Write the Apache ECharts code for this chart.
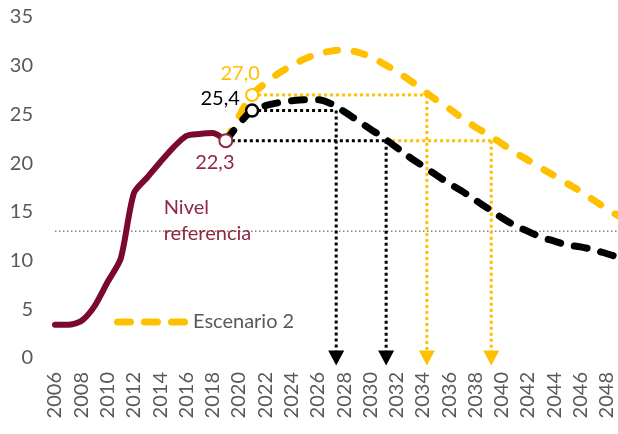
<!DOCTYPE html>
<html>
<head>
<meta charset="utf-8">
<script src="https://cdn.jsdelivr.net/npm/echarts@6/dist/echarts.min.js"></script>
<style>
html,body{margin:0;padding:0;background:#fff;}
#chart{width:618px;height:434px;}
</style>
</head>
<body>
<div id="chart"></div>
<script>
// ---- data ----
const histYears = [2006,2007,2008,2009,2010,2011,2012,2013,2014,2015,2016,2017,2018,2019];
const historico = [3.4,3.4,3.8,5.3,7.8,10.2,16.9,18.5,20.1,21.6,22.8,23.0,23.1,22.3];
const projYears = [2019,2020,2021,2022,2023,2024,2025,2026,2027,2028,2029,2030,2031,2032,2033,2034,2035,2036,2037,2038,2039,2040,2041,2042,2043,2044,2045,2046,2047,2048,2049];
const escenario1 = [22.3,24.0,25.4,25.9,26.2,26.4,26.5,26.5,26.1,25.3,24.4,23.5,22.6,21.6,20.6,19.7,18.8,17.9,17.1,16.2,15.3,14.4,13.6,13.0,12.4,12.0,11.6,11.4,11.1,10.7,10.3];
const escenario2 = [22.3,24.8,27.0,28.2,29.2,30.0,30.7,31.2,31.5,31.6,31.4,30.9,30.2,29.4,28.5,27.5,26.5,25.6,24.6,23.7,22.9,22.0,21.1,20.3,19.5,18.7,17.9,17.1,16.2,15.3,14.5];
const nivelReferencia = 13.0;
const refYears = [2006, 2049];
// highlighted points [year, value]
const puntoBase = [2019, 22.3];
const puntoEsc1 = [2021, 25.4];
const puntoEsc2 = [2021, 27.0];
// years where the scenarios fall back to the marked levels
const cruceEsc1Alto = 2027.4;   // escenario 1 back to 25,4
const cruceEsc1Base = 2031.2;   // escenario 1 back to 22,3
const cruceEsc2Alto = 2034.3;   // escenario 2 back to 27,0
const cruceEsc2Base = 2039.2;   // escenario 2 back to 22,3
const yTicks = [0,5,10,15,20,25,30,35];
const notaNivel = ['Nivel', 'referencia'];
const notaPos = [2014.2, 14.1];

// ---- styles ----
const RED = '#7a0a2c', RED_TXT = '#8c2a40', YEL = '#ffc000', BLK = '#000000', GRAY = '#595959';
const FONT = 'Lato';
// legend sample: three rounded dashes
const DASH_ICON = 'path://M3.5,0H16.5A3.5,3.5,0,0,1,16.5,7H3.5A3.5,3.5,0,0,1,3.5,0Z' +
  'M30.5,0H43.5A3.5,3.5,0,0,1,43.5,7H30.5A3.5,3.5,0,0,1,30.5,0Z' +
  'M57.5,0H70.5A3.5,3.5,0,0,1,70.5,7H57.5A3.5,3.5,0,0,1,57.5,0Z';

const pairs = (xs, ys) => xs.map((x, i) => [x, ys[i]]);
const fmt = v => v.toFixed(1).replace('.', ',');

function guide(data, color) {
  return {
    type: 'line', data: data, symbol: 'none', silent: true, z: 1,
    lineStyle: {color: color, width: 3, type: [3, 3]}
  };
}

const chart = echarts.init(document.getElementById('chart'), null, {renderer: 'canvas'});
chart.setOption({
  animation: false,
  backgroundColor: '#fff',
  grid: {left: 55, right: 1, top: 17, bottom: 76, outerBoundsMode: 'none', containLabel: false},
  legend: {
    data: [{name: 'Escenario 2', icon: DASH_ICON, itemStyle: {color: YEL, borderWidth: 0}}],
    left: 109, top: 307, itemWidth: 74, itemHeight: 7, itemGap: 8, selectedMode: false,
    textStyle: {color: GRAY, fontSize: 20, fontFamily: FONT, padding: [0, 0, 0, 0]}
  },
  xAxis: {
    type: 'value', min: 2006, max: 2048.77, interval: 2,
    axisLine: {show: false}, axisTick: {show: false}, splitLine: {show: false},
    axisLabel: {
      rotate: 90, margin: 14, color: GRAY, fontSize: 20, fontFamily: FONT,
      showMaxLabel: false,
      formatter: v => (Number.isInteger(v) && v % 2 === 0) ? String(v) : ''
    }
  },
  yAxis: {
    type: 'value', min: yTicks[0], max: yTicks[yTicks.length - 1], interval: 5,
    axisLine: {show: false}, axisTick: {show: false}, splitLine: {show: false},
    axisLabel: {margin: 22, color: GRAY, fontSize: 20, fontFamily: FONT}
  },
  series: [
    // reference level
    {
      type: 'line', name: 'Nivel referencia', data: refYears.map(x => [x, nivelReferencia]),
      symbol: 'none', silent: true, z: 1,
      lineStyle: {color: '#7f7f7f', width: 1.5, type: [1.5, 2.5]}
    },
    // guides
    guide([puntoBase, [cruceEsc1Base, puntoBase[1]]], BLK),
    guide([[cruceEsc1Base, puntoBase[1]], [cruceEsc2Base, puntoBase[1]]], YEL),
    guide([puntoEsc1, [cruceEsc1Alto, puntoEsc1[1]]], BLK),
    guide([puntoEsc2, [cruceEsc2Alto, puntoEsc2[1]]], YEL),
    guide([[cruceEsc1Alto, puntoEsc1[1]], [cruceEsc1Alto, 0.6]], BLK),
    guide([[cruceEsc1Base, puntoBase[1]], [cruceEsc1Base, 0.6]], BLK),
    guide([[cruceEsc2Alto, puntoEsc2[1]], [cruceEsc2Alto, 0.6]], YEL),
    guide([[cruceEsc2Base, puntoBase[1]], [cruceEsc2Base, 0.6]], YEL),
    // arrow heads
    {
      type: 'scatter', data: [[cruceEsc1Alto, 0], [cruceEsc1Base, 0]], symbol: 'triangle', symbolRotate: 180,
      symbolSize: [16, 15], itemStyle: {color: BLK, opacity: 1}, clip: false, silent: true, z: 3
    },
    {
      type: 'scatter', data: [[cruceEsc2Alto, 0], [cruceEsc2Base, 0]], symbol: 'triangle', symbolRotate: 180,
      symbolSize: [16, 15], itemStyle: {color: YEL, opacity: 1}, clip: false, silent: true, z: 3
    },
    // scenarios
    {
      type: 'line', name: 'Escenario 2', data: pairs(projYears, escenario2), symbol: 'none', smooth: 0.4,
      lineStyle: {color: YEL, width: 7, type: [11, 17], cap: 'round'}, itemStyle: {color: YEL}, z: 4
    },
    {
      type: 'line', name: 'Escenario 1', data: pairs(projYears, escenario1), symbol: 'none', smooth: 0.4,
      lineStyle: {color: BLK, width: 7, type: [13, 14], cap: 'round'}, itemStyle: {color: BLK}, z: 5
    },
    {
      type: 'line', name: 'Histórico', data: pairs(histYears, historico), symbol: 'none', smooth: 0.25,
      lineStyle: {color: RED, width: 6, cap: 'round', join: 'round'}, itemStyle: {color: RED}, z: 6
    },
    // highlighted points
    {
      type: 'scatter', data: [puntoEsc2], symbol: 'circle', symbolSize: 12, z: 8,
      itemStyle: {color: '#fff', borderColor: YEL, borderWidth: 2, opacity: 1},
      label: {show: true, position: 'top', distance: 4, offset: [-12, 0], formatter: p => fmt(p.value[1]),
        color: YEL, fontSize: 20, fontFamily: FONT}
    },
    {
      type: 'scatter', data: [puntoEsc1], symbol: 'circle', symbolSize: 12, z: 8,
      itemStyle: {color: '#fff', borderColor: BLK, borderWidth: 2.5, opacity: 1},
      label: {show: true, position: 'left', distance: 5, offset: [0, -12], formatter: p => fmt(p.value[1]),
        color: BLK, fontSize: 20, fontFamily: FONT}
    },
    {
      type: 'scatter', data: [puntoBase], symbol: 'circle', symbolSize: 13, z: 8,
      itemStyle: {color: '#fff', borderColor: RED_TXT, borderWidth: 2, opacity: 1},
      label: {show: true, position: 'bottom', distance: 4, offset: [-11, 0], formatter: p => fmt(p.value[1]),
        color: RED_TXT, fontSize: 20, fontFamily: FONT}
    },
    // note
    {
      type: 'scatter', data: [notaPos], symbol: 'circle', symbolSize: 2, silent: true, z: 9,
      itemStyle: {color: 'rgba(255,255,255,0)', opacity: 1},
      label: {show: true, position: 'right', distance: 0, align: 'left', verticalAlign: 'middle',
        formatter: notaNivel.join('\n'), color: RED_TXT, fontSize: 20, lineHeight: 26, fontFamily: FONT}
    }
  ]
});
</script>
</body>
</html>
